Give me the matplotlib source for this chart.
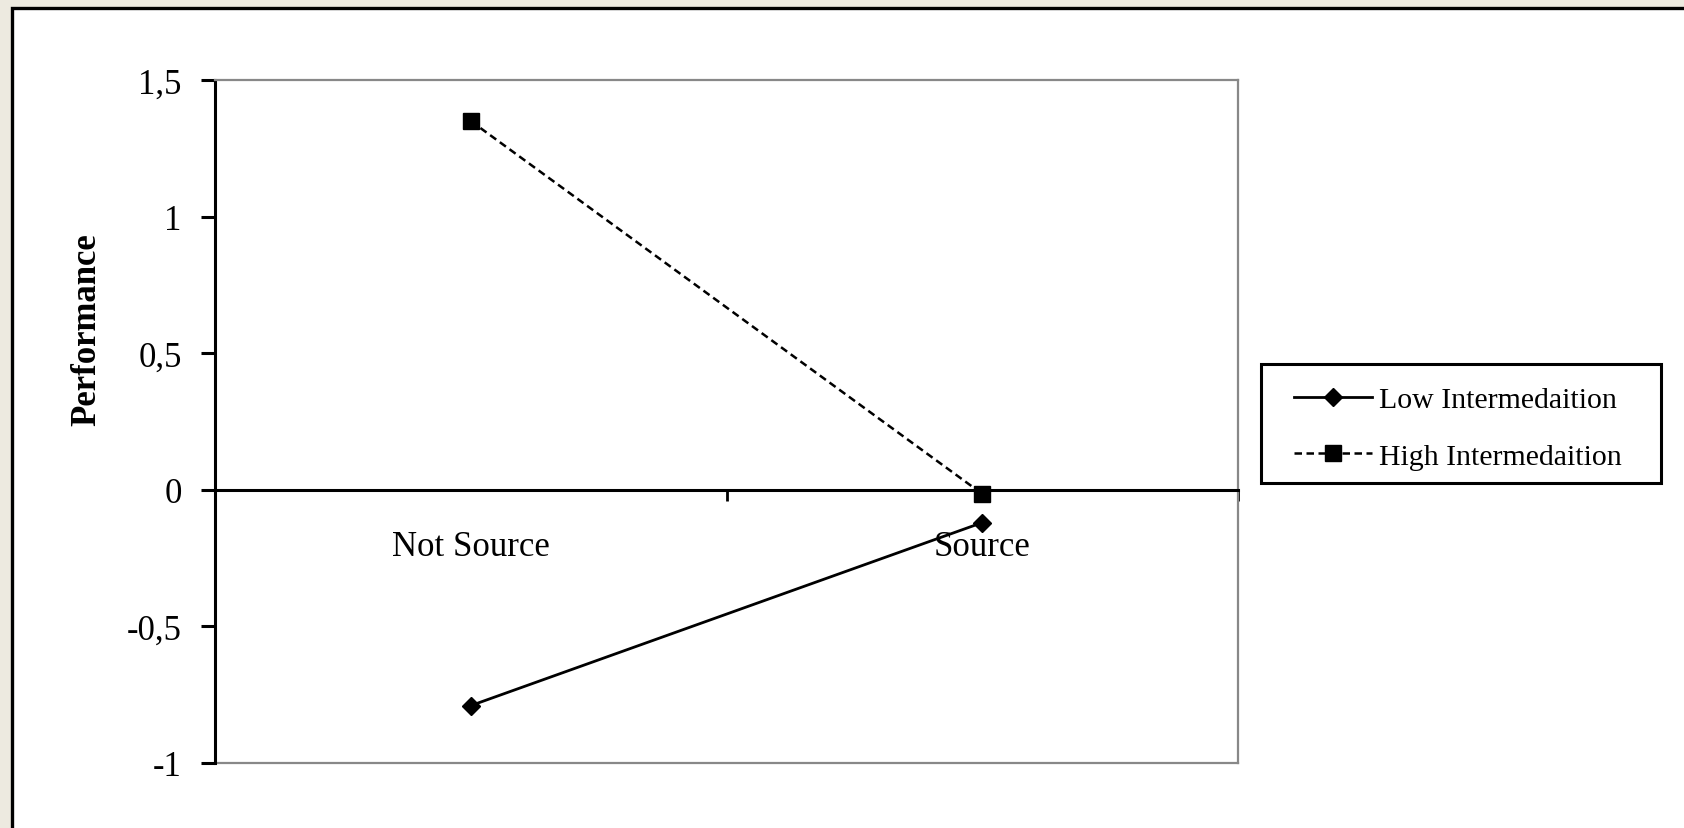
import matplotlib
matplotlib.use("Agg")
import matplotlib.pyplot as plt
from matplotlib.patches import Rectangle

categories = ["Not Source", "Source"]
low_values = [-0.79, -0.12]
high_values = [1.35, -0.015]
series_names = ["Low Intermedaition", "High Intermedaition"]
y_ticks = [-1, -0.5, 0, 0.5, 1, 1.5]
y_tick_labels = ["-1", "-0,5", "0", "0,5", "1", "1,5"]

plt.rcParams['font.family'] = ['Liberation Serif', 'DejaVu Serif']

W, H = 1684, 829
fig = plt.figure(figsize=(W / 100, H / 100), dpi=100)
fig.patch.set_facecolor('#EDEAE0')

# white inner panel with black frame (extends off right/bottom)
fig.patches.append(Rectangle((12 / W, -0.05), 1.2, 1 - 8.5 / H + 0.05,
                             transform=fig.transFigure, facecolor='white',
                             edgecolor='black', linewidth=2.4, zorder=-10))

ax = fig.add_axes([215 / W, 65 / H, (1238 - 215) / W, (764 - 81) / H])
ax.set_zorder(1)
ax.set_facecolor('white')

x_pos = [i + 0.5 for i in range(len(categories))]
ax.plot(x_pos, low_values, color='black', linewidth=2.0, marker='D',
        markersize=9.5, label=series_names[0], zorder=5, clip_on=False)
ax.plot(x_pos, high_values, color='black', linewidth=1.8, linestyle=(0, (3, 1.8)),
        marker='s', markersize=11.5, label=series_names[1], zorder=5, clip_on=False)

ax.set_xlim(0, len(categories))
ax.set_ylim(-1, 1.5)

# spines
for s in ['top', 'right']:
    ax.spines[s].set_color('#888888')
    ax.spines[s].set_linewidth(1.6)
ax.spines['left'].set_color('black')
ax.spines['left'].set_linewidth(2.2)
ax.spines['bottom'].set_position(('data', 0))
ax.spines['bottom'].set_color('black')
ax.spines['bottom'].set_linewidth(2.2)
ax.plot([0, 1], [0, 0], transform=ax.transAxes, color='#888888',
        linewidth=1.6, clip_on=False, zorder=1)

ax.set_yticks(y_ticks)
ax.set_yticklabels(y_tick_labels)
ax.tick_params(axis='y', direction='out', length=10, width=2.2, pad=14,
               labelsize=25, colors='black')

ax.set_xticks(range(len(categories) + 1))
ax.set_xticklabels([])
ax.tick_params(axis='x', which='major', direction='out', length=8, width=2.0)
ax.set_xticks(x_pos, minor=True)
ax.set_xticklabels(categories, minor=True)
ax.tick_params(axis='x', which='minor', length=0, pad=29, labelsize=25)

fig.text(87 / W, 1 - 330 / H, "Performance", rotation=90, ha='center',
         va='center', fontsize=25, fontweight='bold')

# legend box
fig.patches.append(Rectangle((1261 / W, 1 - 484 / H), 400 / W, 119 / H,
                             transform=fig.transFigure, facecolor='white',
                             edgecolor='black', linewidth=2.2, zorder=2))
leg = fig.legend(loc='center', bbox_to_anchor=(1458 / W, 1 - 429 / H),
                 fontsize=21.5, frameon=False, handlelength=2.6, numpoints=1,
                 borderpad=0, labelspacing=1.0, handletextpad=0.25,
                 borderaxespad=0)
leg.set_zorder(3)

fig.savefig("out.png", dpi=100, facecolor=fig.get_facecolor())
